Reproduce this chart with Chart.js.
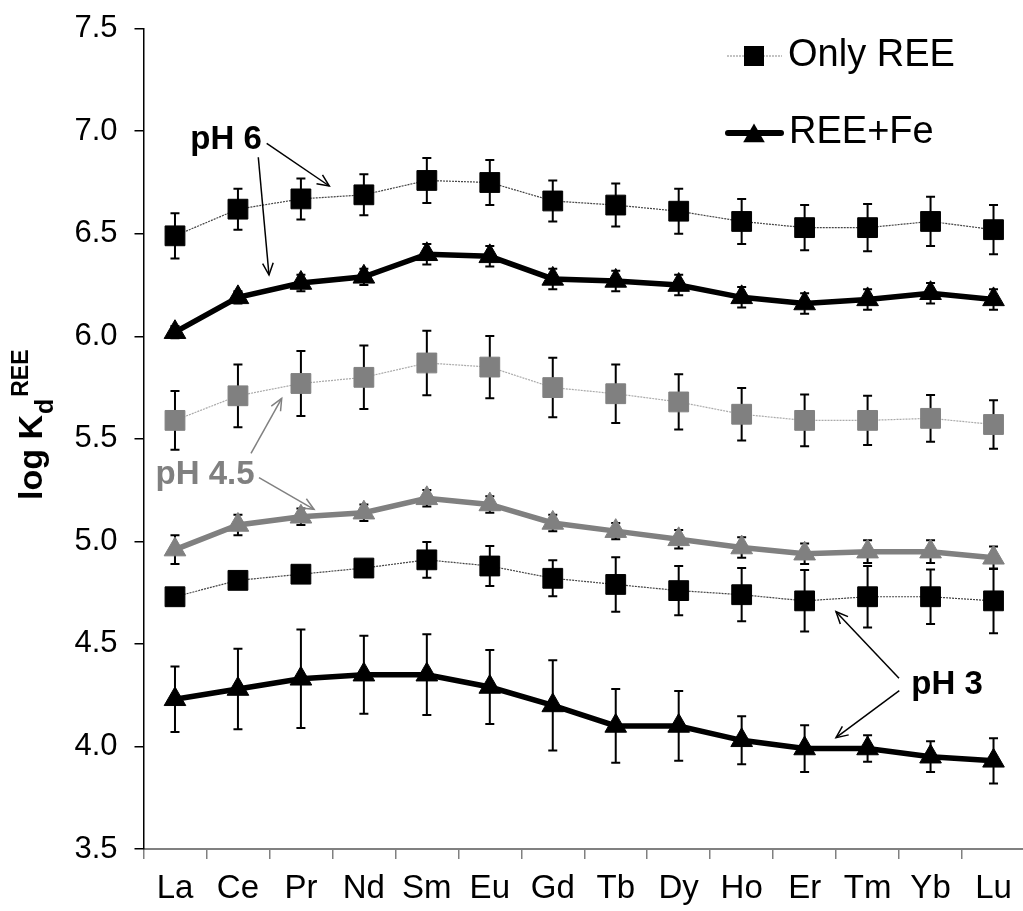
<!DOCTYPE html>
<html>
<head>
<meta charset="utf-8">
<script src="https://cdn.jsdelivr.net/npm/chart.js@4.4.1/dist/chart.umd.min.js"></script>
<style>
  html, body { margin: 0; padding: 0; background: #fff; overflow: hidden; }
  canvas { display: block; }
</style>
</head>
<body>
<canvas id="grafico" width="1040" height="911" style="width:1040px;height:911px"></canvas>
<script>
// ==========================================
// log Kd REE · Only REE vs REE+Fe (pH 3 / 4.5 / 6)
// ==========================================

const elementos = ['La', 'Ce', 'Pr', 'Nd', 'Sm', 'Eu', 'Gd', 'Tb', 'Dy', 'Ho', 'Er', 'Tm', 'Yb', 'Lu'];

// pH 6
const ph6Solo     = [6.49, 6.62, 6.67, 6.69, 6.76, 6.75, 6.66, 6.64, 6.61, 6.56, 6.53, 6.53, 6.56, 6.52];
const ph6SoloErr  = [0.11, 0.10, 0.10, 0.10, 0.11, 0.11, 0.10, 0.105, 0.11, 0.11, 0.11, 0.115, 0.12, 0.12];
const ph6Fe       = [6.02, 6.19, 6.26, 6.29, 6.40, 6.39, 6.28, 6.27, 6.25, 6.19, 6.16, 6.18, 6.21, 6.18];
const ph6FeErr    = [0.03, 0.03, 0.04, 0.04, 0.05, 0.05, 0.05, 0.05, 0.05, 0.05, 0.05, 0.05, 0.05, 0.05];

// pH 4.5
const ph45Solo    = [5.59, 5.71, 5.77, 5.80, 5.87, 5.85, 5.75, 5.72, 5.68, 5.62, 5.59, 5.59, 5.60, 5.57];
const ph45SoloErr = [0.143, 0.153, 0.158, 0.155, 0.157, 0.152, 0.145, 0.143, 0.135, 0.128, 0.126, 0.12, 0.114, 0.118];
const ph45Fe      = [4.96, 5.08, 5.12, 5.14, 5.21, 5.18, 5.09, 5.05, 5.01, 4.97, 4.94, 4.95, 4.95, 4.92];
const ph45FeErr   = [0.07, 0.05, 0.04, 0.04, 0.04, 0.04, 0.04, 0.04, 0.045, 0.05, 0.05, 0.055, 0.055, 0.055];

// pH 3
const ph3Solo     = [4.73, 4.81, 4.84, 4.87, 4.91, 4.88, 4.82, 4.79, 4.76, 4.74, 4.71, 4.73, 4.73, 4.71];
const ph3SoloErr  = [0.03, 0.03, 0.03, 0.03, 0.087, 0.097, 0.088, 0.133, 0.12, 0.13, 0.15, 0.15, 0.133, 0.158];
const ph3Fe       = [4.23, 4.28, 4.33, 4.35, 4.35, 4.29, 4.20, 4.10, 4.10, 4.03, 3.99, 3.99, 3.95, 3.93];
const ph3FeErr    = [0.16, 0.196, 0.24, 0.19, 0.197, 0.18, 0.22, 0.18, 0.17, 0.117, 0.114, 0.065, 0.075, 0.11];

const FUENTE = '"Liberation Sans", Arial, sans-serif';
const NEGRO = '#000000';
const GRIS  = '#808080';

function serieSolo(data, err, color, linea) {
  return {
    data, errores: err,
    borderColor: linea, borderWidth: 1.2, borderDash: [2, 1],
    pointStyle: 'rect', pointRadius: 14, pointHoverRadius: 14,
    pointBackgroundColor: color, pointBorderColor: color, pointBorderWidth: 1,
    tension: 0, fill: false,
  };
}

function serieFe(data, err, color) {
  return {
    data, errores: err,
    borderColor: color, borderWidth: 5.5,
    pointStyle: 'triangle', pointRadius: 12.5, pointHoverRadius: 12.5,
    pointBackgroundColor: color, pointBorderColor: color, pointBorderWidth: 1,
    tension: 0, fill: false,
  };
}

// barras de error (antes de los marcadores)
const barrasError = {
  id: 'barrasError',
  beforeDatasetsDraw(chart) {
    const { ctx, scales: { x, y } } = chart;
    ctx.save();
    ctx.strokeStyle = NEGRO;
    ctx.lineWidth = 2;
    chart.data.datasets.forEach(ds => {
      ds.errores.forEach((e, i) => {
        const px = x.getPixelForValue(i);
        const y1 = y.getPixelForValue(ds.data[i] + e);
        const y2 = y.getPixelForValue(ds.data[i] - e);
        ctx.beginPath();
        ctx.moveTo(px, y1); ctx.lineTo(px, y2);
        ctx.moveTo(px - 4.5, y1); ctx.lineTo(px + 4.5, y1);
        ctx.moveTo(px - 4.5, y2); ctx.lineTo(px + 4.5, y2);
        ctx.stroke();
      });
    });
    ctx.restore();
  }
};

function flecha(ctx, x1, y1, x2, y2, color) {
  ctx.strokeStyle = color;
  ctx.lineWidth = 1.5;
  ctx.beginPath(); ctx.moveTo(x1, y1); ctx.lineTo(x2, y2); ctx.stroke();
  const a = Math.atan2(y2 - y1, x2 - x1), L = 13, w = 0.42;
  ctx.beginPath();
  ctx.moveTo(x2 - L * Math.cos(a - w), y2 - L * Math.sin(a - w));
  ctx.lineTo(x2, y2);
  ctx.lineTo(x2 - L * Math.cos(a + w), y2 - L * Math.sin(a + w));
  ctx.stroke();
}

function triangulo(ctx, cx, cy, r) {
  ctx.beginPath();
  ctx.moveTo(cx, cy - r);
  ctx.lineTo(cx + r * 0.866, cy + r * 0.5);
  ctx.lineTo(cx - r * 0.866, cy + r * 0.5);
  ctx.closePath();
  ctx.fill();
}

// leyenda, anotaciones y título del eje Y
const extras = {
  id: 'extras',
  afterDraw(chart) {
    const ctx = chart.ctx;
    ctx.save();

    // Leyenda
    ctx.strokeStyle = '#888'; ctx.lineWidth = 1.2; ctx.setLineDash([2, 1]);
    ctx.beginPath(); ctx.moveTo(727, 56); ctx.lineTo(782, 56); ctx.stroke();
    ctx.setLineDash([]);
    ctx.fillStyle = NEGRO;
    ctx.fillRect(744, 46, 20, 20);
    ctx.strokeStyle = NEGRO; ctx.lineWidth = 6; ctx.lineCap = 'round';
    ctx.beginPath(); ctx.moveTo(728, 133); ctx.lineTo(781, 133); ctx.stroke();
    ctx.lineCap = 'butt';
    triangulo(ctx, 754, 136, 12.5);
    ctx.font = '38px ' + FUENTE;
    ctx.textBaseline = 'middle'; ctx.textAlign = 'left';
    ctx.fillText('Only REE', 788, 56);
    ctx.fillText('REE+Fe', 789, 133);

    // Anotaciones
    ctx.font = 'bold 33px ' + FUENTE;
    ctx.textAlign = 'center';
    ctx.fillStyle = NEGRO;
    ctx.fillText('pH 6', 226, 140);
    flecha(ctx, 266.7, 143.3, 329.3, 186, NEGRO);
    flecha(ctx, 258.3, 157.3, 269, 275, NEGRO);

    ctx.fillStyle = GRIS;
    ctx.fillText('pH 4.5', 205, 475);
    flecha(ctx, 251, 453.3, 281.7, 398.3, GRIS);
    flecha(ctx, 259, 477.7, 314, 509.3, GRIS);

    ctx.fillStyle = NEGRO;
    ctx.fillText('pH 3', 947, 685);
    flecha(ctx, 899, 678.3, 836, 611.7, NEGRO);
    flecha(ctx, 899.3, 690.7, 836, 737.7, NEGRO);

    // Título eje Y: log K_d^REE
    ctx.translate(42, 500);
    ctx.rotate(-Math.PI / 2);
    ctx.textAlign = 'left'; ctx.textBaseline = 'alphabetic';
    ctx.fillStyle = NEGRO;
    ctx.font = 'bold 34px ' + FUENTE;
    ctx.fillText('log K', 0, 0);
    const w1 = ctx.measureText('log K').width;
    ctx.font = 'bold 25px ' + FUENTE;
    ctx.fillText('d', w1 + 1, 11);
    const w2 = ctx.measureText('d').width;
    ctx.font = 'bold 23px ' + FUENTE;
    ctx.fillText('REE', w1 + w2 + 3, -14);

    ctx.restore();
  }
};

const ctxG = document.getElementById('grafico');
new Chart(ctxG, {
  type: 'line',
  data: {
    labels: elementos,
    datasets: [
      serieSolo(ph6Solo, ph6SoloErr, NEGRO, '#444'),
      serieFe(ph6Fe, ph6FeErr, NEGRO),
      serieSolo(ph45Solo, ph45SoloErr, GRIS, '#aaa'),
      serieFe(ph45Fe, ph45FeErr, GRIS),
      serieSolo(ph3Solo, ph3SoloErr, NEGRO, '#444'),
      serieFe(ph3Fe, ph3FeErr, NEGRO),
    ]
  },
  options: {
    responsive: false,
    animation: false,
    layout: { padding: { top: 28.7, right: 12, left: 0, bottom: 0 } },
    plugins: {
      legend: { display: false },
      tooltip: { enabled: false }
    },
    scales: {
      x: {
        offset: true,
        grid: { offset: true, drawOnChartArea: false, tickLength: 10, color: GRIS, lineWidth: 1.5 },
        border: { color: GRIS, width: 2 },
        ticks: { color: NEGRO, font: { family: FUENTE, size: 33 }, padding: 10, maxRotation: 0, autoSkip: false },
        afterFit: s => { s.height = 62; s.paddingLeft = 0; s.paddingRight = 0; }
      },
      y: {
        min: 3.5,
        max: 7.5,
        grid: { drawOnChartArea: false, tickLength: 9, color: NEGRO, lineWidth: 1.5 },
        border: { color: NEGRO, width: 1.5 },
        ticks: {
          stepSize: 0.5,
          callback: v => v.toFixed(1),
          color: NEGRO,
          font: { family: FUENTE, size: 31 },
          padding: 17
        },
        afterFit: s => { s.width = 143.5; s.paddingTop = 0; s.paddingBottom = 0; }
      }
    }
  },
  plugins: [barrasError, extras]
});
</script>
</body>
</html>
